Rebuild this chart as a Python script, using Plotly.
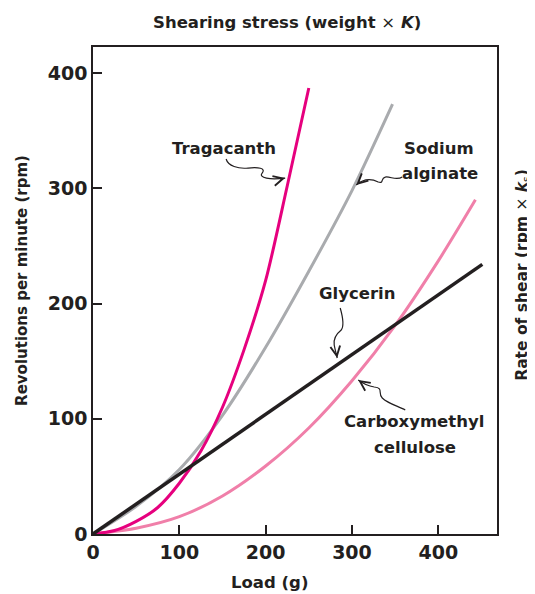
import plotly.graph_objects as go

# ---- data ----
glycerin_x = [0, 451]
glycerin_y = [0, 234]

tragacanth_x = [0, 25, 50, 75, 100, 125, 150, 175, 200, 225, 250]
tragacanth_y = [0, 3, 11, 23, 44, 72, 110, 160, 220, 302, 387]

alginate_x = [0, 50, 100, 150, 200, 250, 300, 347]
alginate_y = [0, 24, 56, 103, 162, 228, 298, 373]

cmc_x = [0, 50, 100, 150, 200, 250, 300, 350, 400, 443]
cmc_y = [0, 5, 15, 33, 59, 92, 133, 181, 237, 290]

x_ticks = [0, 100, 200, 300, 400]
y_ticks = [0, 100, 200, 300, 400]

FONT = "DejaVu Sans"
TXT = "#231f20"

# plot-area geometry (page pixels) used only to place decorations
PX_L, PX_B, SX, SY = 93.0, 534.0, 0.8625, 1.1525

def dx(px):
    return (px - PX_L) / SX

def dy(py):
    return (PX_B - py) / SY

fig = go.Figure()

def add_line(x, y, color, width, name):
    fig.add_trace(go.Scatter(x=x, y=y, mode="lines", name=name,
                             line=dict(color=color, width=width, shape="spline", smoothing=0.8),
                             hoverinfo="skip", showlegend=False))

add_line(cmc_x, cmc_y, "#f07fa9", 3, "Carboxymethyl cellulose")
add_line(alginate_x, alginate_y, "#a9abae", 3, "Sodium alginate")
add_line(tragacanth_x, tragacanth_y, "#e6007e", 3, "Tragacanth")
add_line(glycerin_x, glycerin_y, "#231f20", 3.5, "Glycerin")

axis_common = dict(showline=True, linecolor="#231f20", linewidth=1.5, mirror=True,
                   ticks="inside", ticklen=9, tickwidth=1.5, tickcolor="#231f20",
                   showgrid=False, zeroline=False,
                   tickfont=dict(family=FONT, size=19, color=TXT, weight="bold"))

fig.update_xaxes(range=[0, 468], tickvals=x_ticks, ticktext=[str(v) for v in x_ticks], **axis_common)
fig.update_yaxes(range=[0, 422.6], tickvals=y_ticks, ticktext=[str(v) for v in y_ticks], **axis_common)

lab = dict(family=FONT, size=16.5, color=TXT)

def text(px, py, s):
    fig.add_annotation(x=dx(px), y=dy(py), xref="x", yref="y", text="<b>" + s + "</b>",
                       showarrow=False, font=lab, xanchor="center", yanchor="middle")

def squiggle(pts, back):
    # pts: list of page-pixel points: start, then cubic bezier triples
    d = "M %.2f,%.2f" % (dx(pts[0][0]), dy(pts[0][1]))
    rest = pts[1:]
    for i in range(0, len(rest), 3):
        c1, c2, p = rest[i], rest[i + 1], rest[i + 2]
        d += " C %.2f,%.2f %.2f,%.2f %.2f,%.2f" % (dx(c1[0]), dy(c1[1]), dx(c2[0]), dy(c2[1]),
                                                  dx(p[0]), dy(p[1]))
    fig.add_shape(type="path", path=d, xref="x", yref="y",
                  line=dict(color=TXT, width=1.2))
    tip = pts[-1]
    fig.add_annotation(x=dx(tip[0]), y=dy(tip[1]), ax=dx(back[0]), ay=dy(back[1]),
                       xref="x", yref="y", axref="x", ayref="y", text="", showarrow=True,
                       arrowhead=5, arrowsize=1.6, arrowwidth=1.2, arrowcolor=TXT)

text(224, 148, "Tragacanth")
text(439, 148, "Sodium")
text(440, 173, "alginate")
text(357, 293, "Glycerin")
text(414, 421, "Carboxymethyl")
text(415, 447, "cellulose")

squiggle([(226, 159), (228, 166), (238, 169), (248, 168),
          (258, 167), (266, 168), (262, 173),
          (258, 178), (270, 180), (285, 178)], (279, 179.5))
squiggle([(402, 177), (396, 181), (390, 176), (385, 177),
          (380, 178), (384, 184), (378, 182),
          (372, 179), (364, 178), (356, 185)], (361, 180.5))
squiggle([(340, 308), (342, 315), (344, 326), (341, 330),
          (336, 334), (333, 338), (334, 345),
          (335, 350), (336, 354), (337, 358)], (336, 352))
squiggle([(405, 410), (398, 406), (388, 404), (382, 398),
          (377, 393), (384, 388), (374, 387),
          (368, 386), (362, 383), (358, 380)], (363, 383.5))

# axis titles
fig.add_annotation(x=0.436, y=-0.0986, xref="paper", yref="paper", showarrow=False,
                   text="<b>Load (g)</b>", font=lab, xanchor="center", yanchor="middle")
fig.add_annotation(x=-0.176, y=0.5216, xref="paper", yref="paper", showarrow=False,
                   text="<b>Revolutions per minute (rpm)</b>",
                   font=dict(family=FONT, size=15, color=TXT), textangle=-90,
                   xanchor="center", yanchor="middle")
fig.add_annotation(x=1.064, y=0.532, xref="paper", yref="paper", showarrow=False,
                   text="<b>Rate of shear (rpm </b>×<b> <i>k</i></b><sub>s</sub><b>)</b>",
                   font=dict(family=FONT, size=15.5, color=TXT),
                   textangle=-90, xanchor="center", yanchor="middle")
fig.add_annotation(x=0.48, y=1.051, xref="paper", yref="paper", showarrow=False,
                   text="<b>Shearing stress (weight </b>×<b> <i>K</i>)</b>", font=lab,
                   xanchor="center", yanchor="middle")

# the page adds an 8 px body margin, so the figure is 16 px smaller than the window
fig.update_layout(width=527, height=586, margin=dict(l=85, r=38, t=39, b=60),
                  paper_bgcolor="white", plot_bgcolor="white", showlegend=False)

fig.write_html("out.html")
